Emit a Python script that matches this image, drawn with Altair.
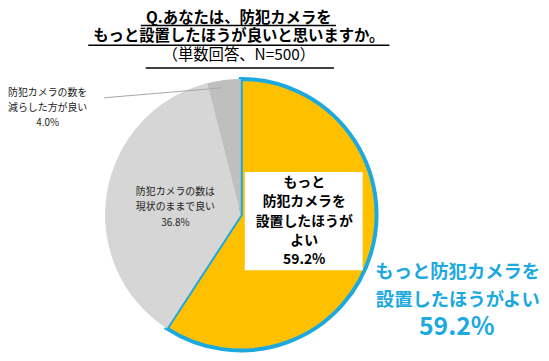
import altair as alt
import pandas as pd

categories = ["もっと防犯カメラを設置したほうがよい", "防犯カメラの数は現状のままで良い", "防犯カメラの数を減らした方が良い"]
values = [59.2, 36.8, 4.0]
order = [0, 1, 2]
colors = ["#FFC000", "#D6D6D6", "#BFBFBF"]

df = pd.DataFrame({"cat": categories, "val": values, "ord": order})

W, H = 533, 345
CX, CY, R = 230, 207, 137
FONT = "Noto Sans CJK JP"

pie = alt.Chart(df).mark_arc(radius=R, strokeJoin="miter").encode(
    theta=alt.Theta("val:Q", stack=True),
    order=alt.Order("ord:Q"),
    color=alt.Color("cat:N", scale=alt.Scale(domain=categories, range=colors), legend=None),
    stroke=alt.condition(alt.datum.ord == 0, alt.value("#1CA9DF"), alt.value("#FFFFFF")),
    strokeWidth=alt.condition(alt.datum.ord == 0, alt.value(4), alt.value(0)),
    x=alt.value(CX), y=alt.value(CY),
)

# white label box on yellow slice
box = alt.Chart(pd.DataFrame({"a": [1]})).mark_rect(color="white").encode(
    x=alt.value(234), x2=alt.value(353), y=alt.value(164), y2=alt.value(263)
)

def text_layer(lines, x, y0, dy, size, weight="normal", color="#000000"):
    d = pd.DataFrame({"t": lines, "i": list(range(len(lines)))})
    return alt.Chart(d).mark_text(
        font=FONT, fontSize=size, fontWeight=weight, color=color, align="center", baseline="middle"
    ).encode(
        text="t:N",
        x=alt.value(x),
        y=alt.Y("i:Q", scale=alt.Scale(domain=[0, 1], range=[y0, y0 + dy]), axis=None),
    )

box_text = text_layer(["もっと", "防犯カメラを", "設置したほうが", "よい", "59.2%"], 294, 175, 19.5, 14, "bold")
blue_text = text_layer(["もっと防犯カメラを", "設置したほうがよい"], 449, 265, 28, 18.5, "bold", "#1CA9DF")
blue_text2 = text_layer(["59.2%"], 448, 320, 25, 25, "bold", "#1CA9DF")
mid_text = text_layer(["防犯カメラの数は", "現状のままで良い", "36.8%"], 164, 184, 15.5, 10, "normal", "#222222")
left_text = text_layer(["防犯カメラの数を", "減らした方が良い", "4.0%"], 35, 84, 15, 10, "normal", "#222222")

leader = alt.Chart(pd.DataFrame({"a": [1]})).mark_rule(color="#A6A6A6", strokeWidth=1).encode(
    x=alt.value(92), y=alt.value(89), x2=alt.value(210), y2=alt.value(79)
)

title1 = text_layer(["Q.あなたは、防犯カメラを"], 228, 8, 20, 15.5, "bold")
title2 = text_layer(["もっと設置したほうが良いと思いますか。"], 228, 27, 20, 15.5, "bold")
title3 = text_layer(["（単数回答、N=500）"], 228, 46, 20, 15.5, "normal")

ul = pd.DataFrame({"x": [129, 76, 134], "x2": [326, 380, 324], "y": [16, 36, 59]})
underlines = alt.Chart(ul).mark_rule(color="#000000", strokeWidth=1.5).encode(
    x=alt.X("x:Q", scale=alt.Scale(domain=[0, W], range=[0, W]), axis=None),
    x2="x2:Q",
    y=alt.Y("y:Q", scale=alt.Scale(domain=[0, H], range=[0, H]), axis=None),
)

chart = alt.layer(
    pie, box, box_text, blue_text, blue_text2, mid_text, left_text, leader, title1, title2, title3, underlines
).resolve_scale(y="independent", x="independent").properties(
    width=W, height=H, padding=0
).configure_view(stroke=None)

chart.save("out.html", embed_options={"renderer": "svg", "actions": False})
